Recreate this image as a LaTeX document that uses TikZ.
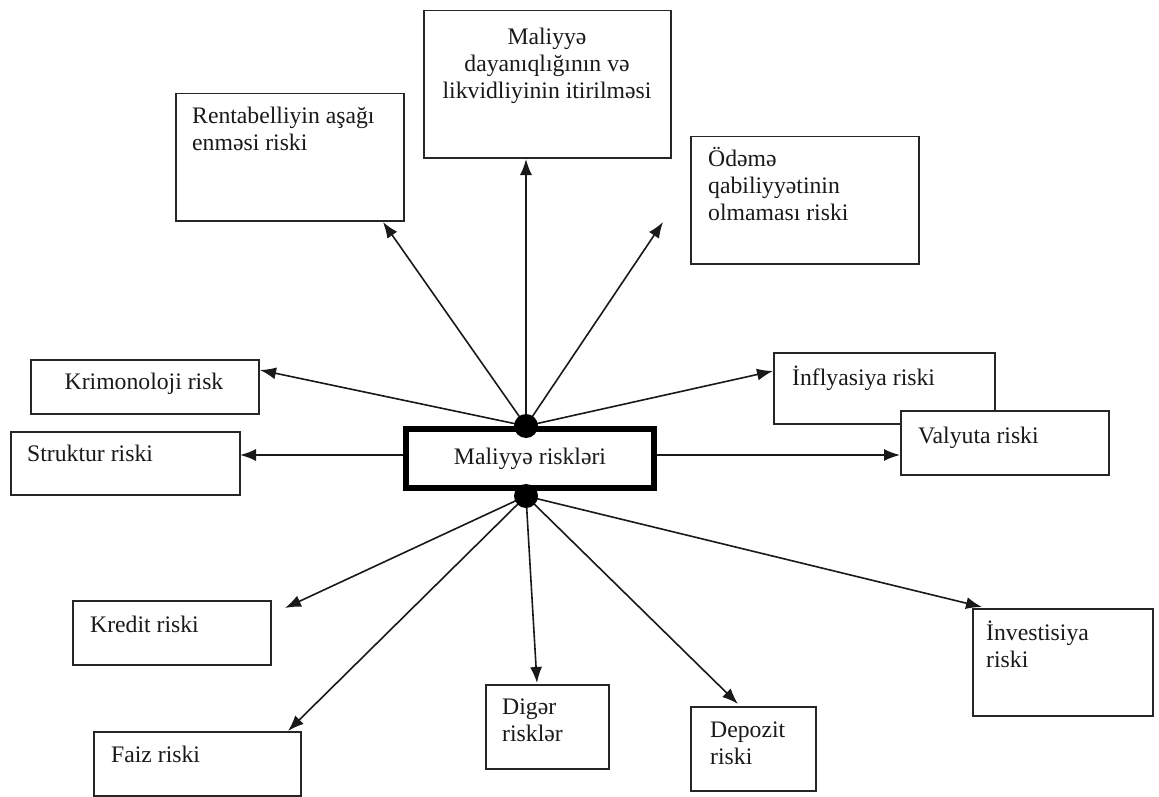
\documentclass[tikz,border=0pt]{standalone}
\usepackage{fontspec}
\setmainfont{Liberation Serif}
\usetikzlibrary{arrows.meta}
\begin{document}
\begin{tikzpicture}[x=1pt,y=-1pt,
  box/.style={draw=black!85, line width=1.5pt, fill=white, inner sep=0pt, anchor=north west},
  lbl/.style={font=\fontsize{23.7}{27}\selectfont, inner sep=0pt, anchor=north west, align=left, text=black!90},
  arr/.style={line width=1.6pt, draw=black!90, -{Latex[length=16pt,width=12pt]}},
  dotn/.style={circle, fill=black, minimum size=24pt, inner sep=0pt}]
\useasboundingbox[fill=white] (0,0) rectangle (1159,797);
% boxes
\node[box, minimum width=228pt, minimum height=127pt] (rb) at (175,93) {};
\node[box, minimum width=247pt, minimum height=147pt] (mb) at (423,10) {};
\node[box, minimum width=228pt, minimum height=127pt] (ob) at (690,136) {};
\node[box, minimum width=228pt, minimum height=54pt] (kb) at (30,359) {};
\node[box, minimum width=229pt, minimum height=63pt] (sb) at (10,431) {};
\node[box, minimum width=221pt, minimum height=71pt] (ib) at (773,352) {};
\node[box, minimum width=208pt, minimum height=64pt] (vb) at (900,410) {};
\node[box, minimum width=198pt, minimum height=64pt] (krb) at (72,600) {};
\node[box, minimum width=207pt, minimum height=64pt] (fb) at (93,731) {};
\node[box, minimum width=123pt, minimum height=84pt] (db) at (485,684) {};
\node[box, minimum width=125pt, minimum height=84pt] (dpb) at (690,706) {};
\node[box, minimum width=180pt, minimum height=107pt] (inb) at (972,608) {};
% labels
\node[lbl] (rt) at (192,104) {\strut Rentabelliyin aşağı\\enməsi riski};
\node[lbl, anchor=north, align=center] (mt) at (547,25) {\strut Maliyyə\\dayanıqlığının və\\likvidliyinin itirilməsi};
\node[lbl] (ot) at (708,147) {\strut Ödəmə\\qabiliyyətinin\\olmaması riski};
\node[lbl, anchor=north] (kt) at (144,370) {\strut Krimonoloji risk};
\node[lbl] (st) at (27,442) {\strut Struktur riski};
\node[lbl] (it) at (792,366) {\strut İnflyasiya riski};
\node[lbl] (vt) at (918,424) {\strut Valyuta riski};
\node[lbl] (krt) at (90,613) {\strut Kredit riski};
\node[lbl] (ft) at (111,743) {\strut Faiz riski};
\node[lbl] (dt) at (502,695) {\strut Digər\\risklər};
\node[lbl] (dpt) at (710,718) {\strut Depozit\\riski};
\node[lbl] (int) at (986,621) {\strut İnvestisiya\\riski};
% arrow tips
\coordinate (tR) at (383,222);
\coordinate (tM) at (526,159);
\coordinate (tO) at (663,222);
\coordinate (tK) at (260,370);
\coordinate (tS) at (240,455);
\coordinate (tI) at (773,371);
\coordinate (tV) at (900,455);
\coordinate (tKr) at (285,608);
\coordinate (tF) at (288,731);
\coordinate (tD) at (537,683);
\coordinate (tDp) at (738,704);
\coordinate (tIn) at (982,607);
% hubs
\coordinate (up) at (526,426);
\coordinate (dn) at (526,496);
\draw[arr] (up) -- (tR);
\draw[arr] (up) -- (tM);
\draw[arr] (up) -- (tO);
\draw[arr] (up) -- (tK);
\draw[arr] (up) -- (tI);
\draw[arr] (dn) -- (tKr);
\draw[arr] (dn) -- (tF);
\draw[arr] (dn) -- (tD);
\draw[arr] (dn) -- (tDp);
\draw[arr] (dn) -- (tIn);
% central box
\node[draw, line width=6pt, fill=white, minimum width=248pt, minimum height=59pt,
      font=\fontsize{23.7}{27}\selectfont, text=black!90] (mr) at (530,458.5) {Maliyyə riskləri};
\draw[arr] (tS -| mr.west) -- (tS);
\draw[arr] (tV -| mr.east) -- (tV);
\node[dotn] (d1) at (up) {};
\node[dotn] (d2) at (dn) {};
\end{tikzpicture}
\end{document}
